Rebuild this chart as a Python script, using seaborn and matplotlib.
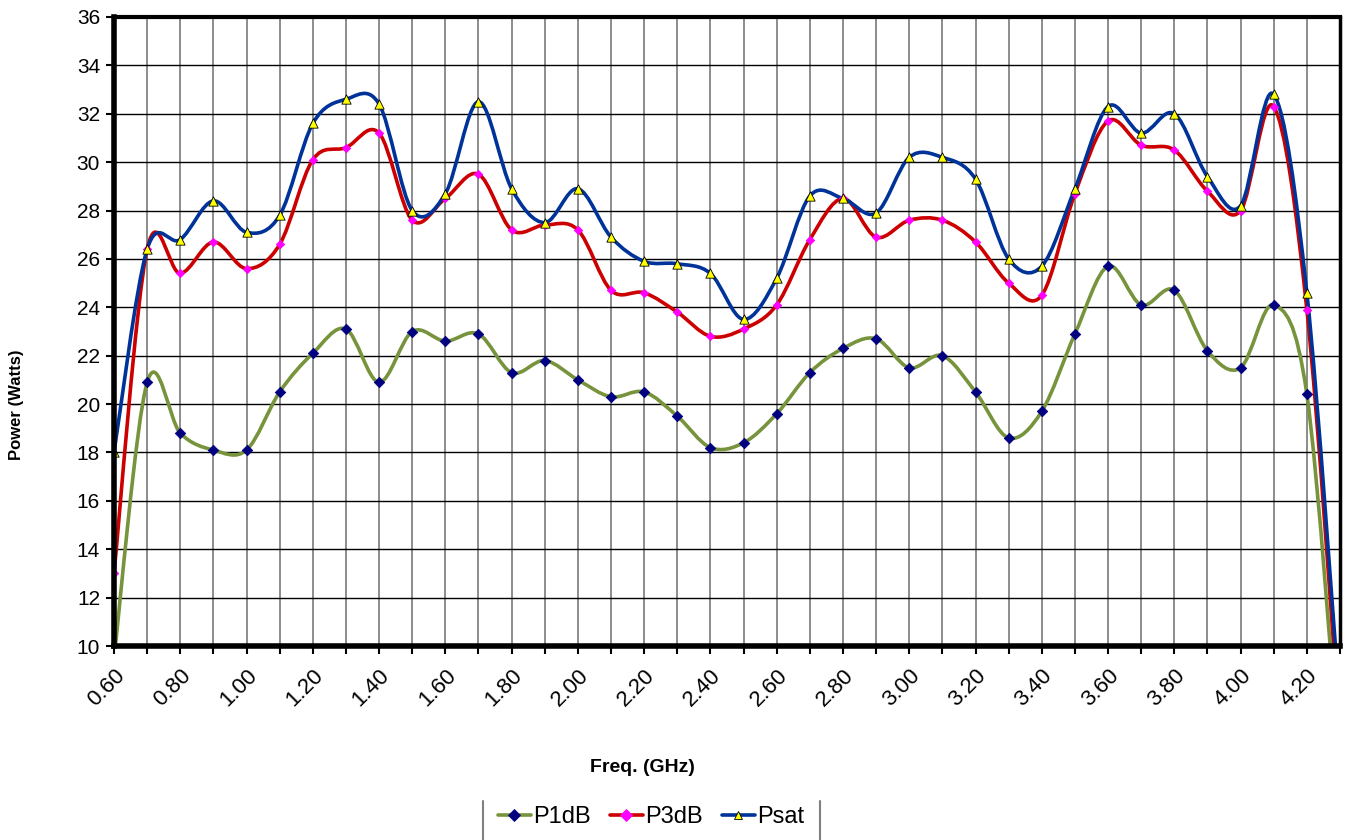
import numpy as np
import matplotlib
matplotlib.use('Agg')
import matplotlib.pyplot as plt
from matplotlib.path import Path
from matplotlib.patches import PathPatch
from matplotlib.lines import Line2D
import seaborn as sns

# 数据: 频率 (GHz) 与三条功率曲线 (Watts)
freq = [0.6, 0.7, 0.8, 0.9, 1.0, 1.1, 1.2, 1.3, 1.4, 1.5, 1.6, 1.7, 1.8, 1.9,
        2.0, 2.1, 2.2, 2.3, 2.4, 2.5, 2.6, 2.7, 2.8, 2.9, 3.0, 3.1, 3.2, 3.3,
        3.4, 3.5, 3.6, 3.7, 3.8, 3.9, 4.0, 4.1, 4.2, 4.3]
p1db = [9.5, 20.9, 18.8, 18.1, 18.1, 20.5, 22.1, 23.1, 20.9, 23.0, 22.6, 22.9,
        21.3, 21.8, 21.0, 20.3, 20.5, 19.5, 18.2, 18.4, 19.6, 21.3, 22.3, 22.7,
        21.5, 22.0, 20.5, 18.6, 19.7, 22.9, 25.7, 24.1, 24.7, 22.2, 21.5, 24.1,
        20.4, 5.0]
p3db = [13.0, 26.4, 25.4, 26.7, 25.6, 26.6, 30.1, 30.6, 31.2, 27.6, 28.5, 29.5,
        27.2, 27.4, 27.2, 24.7, 24.6, 23.8, 22.8, 23.1, 24.1, 26.8, 28.5, 26.9,
        27.6, 27.6, 26.7, 25.0, 24.5, 28.7, 31.7, 30.7, 30.5, 28.8, 28.0, 32.3,
        23.9, 6.5]
psat = [18.0, 26.4, 26.8, 28.4, 27.1, 27.8, 31.6, 32.6, 32.4, 28.0, 28.7, 32.5,
        28.9, 27.5, 28.9, 26.9, 25.9, 25.8, 25.4, 23.5, 25.2, 28.6, 28.5, 27.9,
        30.2, 30.2, 29.3, 26.0, 25.7, 28.9, 32.3, 31.2, 32.0, 29.4, 28.2, 32.8,
        24.6, 7.5]
y_ticks = list(range(10, 37, 2))
x_labels = [f'{v:.2f}' if i % 2 == 0 else '' for i, v in enumerate(freq)]

sns.set_style('white')
plt.rcParams['font.family'] = ['Liberation Sans', 'DejaVu Sans']
plt.rcParams['text.color'] = 'black'
plt.rcParams['xtick.color'] = 'black'
plt.rcParams['ytick.color'] = 'black'


def smooth_path(x, y):
    """Excel 风格平滑线: 用三次贝塞尔曲线连接数据点"""
    pts = np.column_stack([x, y]).astype(float)
    n = len(pts)
    verts = [pts[0]]
    codes = [Path.MOVETO]
    for i in range(n - 1):
        p0 = pts[max(i - 1, 0)]
        p1 = pts[i]
        p2 = pts[i + 1]
        p3 = pts[min(i + 2, n - 1)]
        verts += [p1 + (p2 - p0) / 6, p2 - (p3 - p1) / 6, p2]
        codes += [Path.CURVE4] * 3
    return Path(verts, codes)


fig = plt.figure(figsize=(13.46, 8.4), dpi=100)
ax = fig.add_axes([114 / 1346, 194 / 840, 1226 / 1346, 629 / 840])

series = [
    ('P1dB', p1db, '#77933C', 'D', '#000080', '#000080', 28),
    ('P3dB', p3db, '#CC0000', 'D', '#FF00FF', '#FF00FF', 18),
    ('Psat', psat, '#003399', '^', '#FFFF00', '#000000', 45),
]

for i, (name, vals, lc, mk, mfc, mec, ms) in enumerate(series):
    ax.add_patch(PathPatch(smooth_path(freq, vals), fill=False, edgecolor=lc,
                           lw=2.6, capstyle='round', joinstyle='round',
                           zorder=3 + i))

for i, (name, vals, lc, mk, mfc, mec, ms) in enumerate(series):
    sns.scatterplot(x=freq, y=vals, marker=mk, s=ms, color=mfc,
                    edgecolor=mec, linewidth=0.6, ax=ax, zorder=7 + i)

ax.set_xlim(0.6, 4.3)
ax.set_ylim(10, 36)
ax.set_xticks(freq)
ax.set_xticklabels(x_labels, rotation=45, ha='right', va='top',
                   rotation_mode='anchor', fontsize=16)
ax.set_yticks(y_ticks)
ax.set_yticklabels([str(v) for v in y_ticks], fontsize=15)
ax.tick_params(axis='both', direction='out', length=6, width=1.5,
               color='black', left=True, bottom=True)
ax.tick_params(axis='x', pad=8)
ax.tick_params(axis='y', pad=4)

ax.grid(False)
for v in freq[1:-1]:
    ax.axvline(v, color='#8c8c8c', lw=1.4, zorder=1)
for v in y_ticks[1:-1]:
    ax.axhline(v, color='black', lw=1.0, zorder=1)

for side, lw in [('left', 4.0), ('bottom', 4.0), ('top', 3.0), ('right', 2.5)]:
    ax.spines[side].set_visible(True)
    ax.spines[side].set_color('black')
    ax.spines[side].set_linewidth(lw)
    ax.spines[side].set_zorder(20)

fig.text(17 / 1346, 1 - 405 / 840, 'Power (Watts)', rotation=90,
         ha='center', va='center', fontsize=12, fontweight='bold')
fig.text(642 / 1346, 1 - 768 / 840, 'Freq. (GHz)', ha='center',
         va='center', fontsize=14, fontweight='bold')

handles = [Line2D([0], [0], color=lc, lw=2.6, marker=mk, markersize=6,
                  markerfacecolor=mfc, markeredgecolor=mec, markeredgewidth=0.6)
           for name, vals, lc, mk, mfc, mec, ms in series]
leg = fig.legend(handles, [s[0] for s in series], loc='upper center',
                 bbox_to_anchor=(651 / 1346, 1 - 806 / 840), ncol=3,
                 fontsize=17, frameon=False, handlelength=1.4,
                 handletextpad=0.1, columnspacing=0.8, borderpad=0.0,
                 borderaxespad=0.0)

# 图例边框只露出左右两条竖线（底部被裁掉）
for xp in (483, 820):
    fig.add_artist(Line2D([xp / 1346, xp / 1346], [0, 1 - 801 / 840],
                          color='#808080', lw=1.5))

fig.savefig('out.png', dpi=100)
plt.close(fig)
